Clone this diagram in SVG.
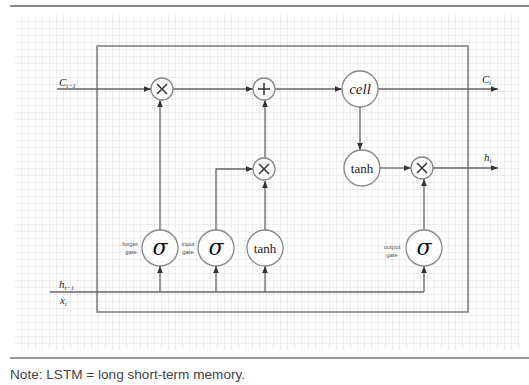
<svg xmlns="http://www.w3.org/2000/svg" width="529" height="385" viewBox="0 0 529 385">
  <defs>
    <pattern id="grid" x="15" y="15" width="7" height="7" patternUnits="userSpaceOnUse">
      <path d="M7 0V7M0 7H7" fill="none" stroke="#dddddd" stroke-width="1"/>
    </pattern>
    <marker id="arr" viewBox="0 0 10 10" refX="10" refY="5" markerWidth="7" markerHeight="7" orient="auto" markerUnits="userSpaceOnUse">
      <path d="M0 1L10 5L0 9Z" fill="#333"/>
    </marker>
    <style>
      .line{fill:none;stroke:#666;stroke-width:1.3}
      .node circle{fill:#fff;stroke:#888;stroke-width:1.3}
      .op{fill:none;stroke:#333;stroke-width:1.5}
      .serif{font-family:"Liberation Serif","DejaVu Serif",serif;fill:#222}
      .small{font-family:"Liberation Sans",Arial,sans-serif;font-size:6px;fill:#555;text-anchor:middle}
      .sig{font-family:"DejaVu Serif","Liberation Serif",serif;font-style:italic;font-size:22px;fill:#111;text-anchor:middle}
    </style>
  </defs>

  <!-- page background and grid -->
  <rect width="529" height="385" fill="#fff"/>
  <rect x="15" y="15" width="505" height="335" fill="url(#grid)"/>
  <line x1="10" y1="6" x2="529" y2="6" stroke="#666" stroke-width="1.5"/>
  <line x1="10" y1="358" x2="529" y2="358" stroke="#777" stroke-width="1.5"/>

  <!-- cell boundary -->
  <rect x="97" y="46" width="371" height="266" fill="none" stroke="#666" stroke-width="1.3"/>

  <!-- connectors -->
  <g id="connectors" class="line">
    <line x1="57" y1="89" x2="151" y2="89" marker-end="url(#arr)"/>
    <line x1="173" y1="89" x2="253" y2="89" marker-end="url(#arr)"/>
    <line x1="275" y1="89" x2="342" y2="89" marker-end="url(#arr)"/>
    <line x1="378" y1="89" x2="498" y2="89" marker-end="url(#arr)"/>
    <line x1="360" y1="107" x2="360" y2="150" marker-end="url(#arr)"/>
    <line x1="380" y1="168" x2="411" y2="168" marker-end="url(#arr)"/>
    <line x1="433" y1="168" x2="498" y2="168" marker-end="url(#arr)"/>
    <line x1="160" y1="230" x2="160" y2="100" marker-end="url(#arr)"/>
    <polyline points="216,230 216,169 253,169" marker-end="url(#arr)"/>
    <line x1="265" y1="230" x2="265" y2="181" marker-end="url(#arr)"/>
    <line x1="265" y1="158" x2="265" y2="100" marker-end="url(#arr)"/>
    <line x1="424" y1="230" x2="424" y2="179" marker-end="url(#arr)"/>
    <line x1="50" y1="292" x2="424" y2="292"/>
    <line x1="160" y1="292" x2="160" y2="266" marker-end="url(#arr)"/>
    <line x1="216" y1="292" x2="216" y2="266" marker-end="url(#arr)"/>
    <line x1="265" y1="292" x2="265" y2="266" marker-end="url(#arr)"/>
    <line x1="424" y1="292" x2="424" y2="266" marker-end="url(#arr)"/>
  </g>

  <!-- operator and gate nodes -->
  <g id="mul-forget" class="node">
    <circle cx="162" cy="89" r="11"/>
    <path class="op" d="M157 84L167 94M167 84L157 94"/>
  </g>
  <g id="add" class="node">
    <circle cx="264" cy="89" r="11"/>
    <path class="op" d="M264 83V95M258 89H270"/>
  </g>
  <g id="mul-input" class="node">
    <circle cx="264" cy="169" r="11"/>
    <path class="op" d="M259 164L269 174M269 164L259 174"/>
  </g>
  <g id="cell" class="node">
    <circle cx="360" cy="89" r="18"/>
    <text class="serif" x="360" y="94" font-size="15" font-style="italic" text-anchor="middle">cell</text>
  </g>
  <g id="tanh-out" class="node">
    <circle cx="362" cy="168" r="18"/>
    <text class="serif" x="362" y="173" font-size="13" text-anchor="middle">tanh</text>
  </g>
  <g id="mul-output" class="node">
    <circle cx="422" cy="168" r="11"/>
    <path class="op" d="M417 163L427 173M427 163L417 173"/>
  </g>
  <g id="forget-gate" class="node">
    <circle cx="160" cy="248" r="18"/>
    <text class="sig" x="160" y="255">σ</text>
    <text class="small" x="130" y="246">forget</text>
    <text class="small" x="131" y="254">gate</text>
  </g>
  <g id="input-gate" class="node">
    <circle cx="216" cy="248" r="18"/>
    <text class="sig" x="216" y="255">σ</text>
    <text class="small" x="188" y="246">input</text>
    <text class="small" x="188" y="254">gate</text>
  </g>
  <g id="tanh-in" class="node">
    <circle cx="265" cy="248" r="18"/>
    <text class="serif" x="265" y="253" font-size="13" text-anchor="middle">tanh</text>
  </g>
  <g id="output-gate" class="node">
    <circle cx="424" cy="248" r="18"/>
    <text class="sig" x="424" y="255">σ</text>
    <text class="small" x="392" y="249">output</text>
    <text class="small" x="392" y="257">gate</text>
  </g>

  <!-- input / output labels -->
  <g id="labels" class="serif" font-style="italic">
    <text x="59" y="86" font-size="11">C<tspan font-size="6.5" dy="2">t−1</tspan></text>
    <text x="482" y="83" font-size="11">C<tspan font-size="6.5" dy="2">t</tspan></text>
    <text x="484" y="161" font-size="11">h<tspan font-size="6.5" dy="2">t</tspan></text>
    <text x="59" y="288" font-size="11">h<tspan font-size="6.5" dy="2">t−1</tspan></text>
    <text x="60" y="304" font-size="11">x<tspan font-size="6.5" dy="2">t</tspan></text>
  </g>

  <text x="10" y="379" font-family="'Liberation Sans',Arial,sans-serif" font-size="13.6" fill="#444">Note: LSTM = long short-term memory.</text>
</svg>
